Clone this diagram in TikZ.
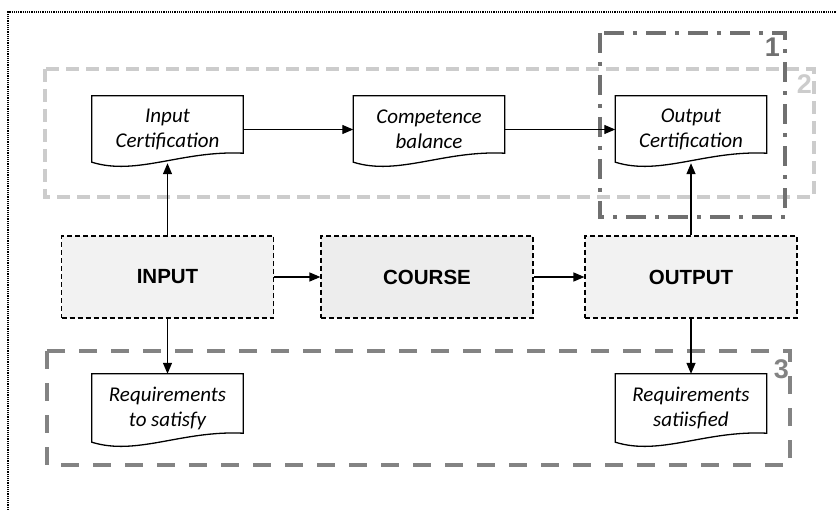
\documentclass[tikz,border=0pt]{standalone}
\usepackage{fontspec}
\setmainfont{Carlito}
\setsansfont{Liberation Sans}
\usetikzlibrary{arrows.meta,calc}
\definecolor{procfill}{HTML}{F2F2F2}
\definecolor{cfill}{HTML}{EDEDED}
\definecolor{gone}{HTML}{707070}
\definecolor{gtwo}{HTML}{CCCCCC}
\definecolor{gthree}{HTML}{838383}
\tikzset{
  docnode/.style={inner sep=0pt, minimum width=151pt, minimum height=67pt, align=center,
    font=\itshape\fontsize{21}{25}\selectfont},
  docline/.style={line width=1.3pt, line join=miter},
  procbox/.style={draw, dashed, dash pattern=on 5pt off 3pt, line width=1.2pt, fill=procfill,
    minimum width=212pt, minimum height=82pt, inner sep=0pt,
    font=\sffamily\bfseries\fontsize{20.5}{24}\selectfont},
  arr/.style={line width=1.3pt, -{Triangle[length=11pt,width=9pt]}},
  grpone/.style={draw=gone, line width=4pt, dash pattern=on 20pt off 9pt on 4pt off 9pt},
  grptwo/.style={draw=gtwo, line width=4pt, dash pattern=on 13pt off 7pt},
  grpthree/.style={draw=gthree, line width=4pt, dash pattern=on 18pt off 14pt},
  num/.style={inner sep=0pt, anchor=north east, font=\sffamily\bfseries\fontsize{27}{27}\selectfont}
}
\begin{document}
\begin{tikzpicture}[x=1pt,y=-1pt]
\useasboundingbox (0,0) rectangle (837,510);
% outer frame
\draw[line width=1.1pt, dash pattern=on 1.2pt off 1pt] (8,510) -- (8,12) -- (837,12);

% group boxes
\draw[grptwo] (45,69) rectangle (814,197);
\draw[grpone] (600,33) rectangle (785,217);
\draw[grpthree] (47,351) rectangle (790,465);
\node[num, text=gone] (n1) at (780,38) {1};
\node[num, text=gtwo] (n2) at (812,74) {2};
\node[num, text=gthree] (n3) at (789,359) {3};

% documents
\node[docnode] (icert) at (167.5,129.5) {Input\\Certification};
\node[docnode] (comp) at (429,129.5) {Competence\\balance};
\node[docnode] (ocert) at (691,129.5) {Output\\Certification};
\node[docnode, minimum height=69pt] (rsat) at (167.5,408.5) {Requirements\\to satisfy};
\node[docnode, minimum height=69pt] (rsatd) at (691,408.5) {Requirements\\satiisfied};
\foreach \n in {icert,comp,ocert,rsat,rsatd}{
  \draw[docline] ([shift={(0,-1)}]\n.south west) -- (\n.north west) -- (\n.north east)
    -- ([shift={(0,-10)}]\n.south east)
    .. controls ([shift={(90,-13)}]\n.south west) and ([shift={(45,13)}]\n.south west)
    .. ([shift={(0,-1)}]\n.south west) -- cycle;
}

% process boxes
\node[procbox] (inp) at (167.5,277) {INPUT};
\node[procbox, fill=cfill] (crs) at (427,277) {COURSE};
\node[procbox] (outp) at (691,277) {OUTPUT};

% connectors
\draw[arr] (icert) -- (comp);
\draw[arr] (comp) -- (ocert);
\draw[arr] (inp) -- (crs);
\draw[arr] (crs) -- (outp);
\draw[arr] (inp) -- (icert);
\draw[arr] (inp) -- (rsat);
\draw[arr] (outp) -- (ocert);
\draw[arr] (outp) -- (rsatd);
\end{tikzpicture}
\end{document}
